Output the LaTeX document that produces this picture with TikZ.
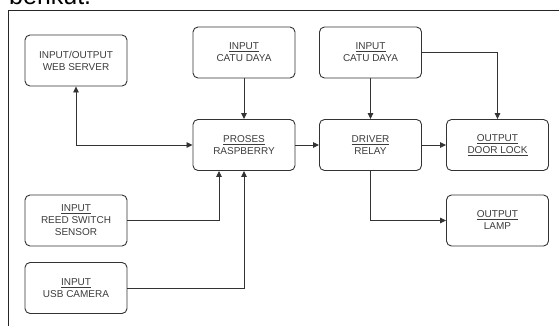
\documentclass[tikz,border=0pt]{standalone}
\usepackage{fontspec}
\setmainfont{Liberation Sans}
\usetikzlibrary{arrows.meta}
\definecolor{garis}{HTML}{333333}
\definecolor{teks}{HTML}{3C3C3C}
\tikzset{
  blok/.style={draw=garis, line width=0.9pt, rounded corners=5pt, minimum width=102pt,
    minimum height=51pt, align=center, text=teks, font=\fontsize{10}{12}\selectfont},
  panah/.style={draw=garis, line width=0.8pt, -{Triangle[length=6pt,width=5.5pt]}},
}
\begin{document}
\begin{tikzpicture}[x=1pt,y=-1pt]
		\clip (0,0) rectangle (559,326);
		% Bingkai
		\node(judul)[anchor=base west, inner sep=0pt, font=\fontsize{25}{30}\selectfont] at (9,5) {berikut.};
		\draw[line width=0.9pt, black!85] (559,10.5) -- (8.5,10.5) -- (8.5,326);
		% Blok input
		\node(web)[blok] at (76,60.5) {INPUT/OUTPUT\\WEB SERVER};
		\node(reed)[blok] at (76,220.5) {\underline{INPUT}\\REED SWITCH\\SENSOR};
		\node(usb)[blok] at (76,288) {\underline{INPUT}\\USB CAMERA};
		\node(catuA)[blok] at (244,52.5) {\underline{INPUT}\\CATU DAYA};
		\node(catuB)[blok] at (370.5,52.5) {\underline{INPUT}\\CATU DAYA};
		% Blok proses dan output
		\node(proses)[blok] at (244,145) {\underline{PROSES}\\RASPBERRY};
		\node(driver)[blok] at (370.5,145) {\underline{DRIVER}\\RELAY};
		\node(door)[blok] at (497.5,145) {\underline{OUTPUT}\\\underline{DOOR LOCK}};
		\node(lamp)[blok] at (497.5,220.5) {\underline{OUTPUT}\\LAMP};
		% Panah
		\draw[panah, {Triangle[length=6pt,width=5.5pt]}-{Triangle[length=6pt,width=5.5pt]}] (web.south) |- (proses.west);
		\draw[panah] (catuA) -- (proses);
		\draw[panah] (proses) -- (driver);
		\draw[panah] (catuB) -- (driver);
		\draw[panah] (catuB.east) -| (door.north);
		\draw[panah] (driver) -- (door);
		\draw[panah] (driver.south) |- (lamp.west);
		\draw[panah] (reed.east) -| ([xshift=-25pt]proses.south);
		\draw[panah] (usb.east) -| (proses.south);
	\end{tikzpicture}
\end{document}
